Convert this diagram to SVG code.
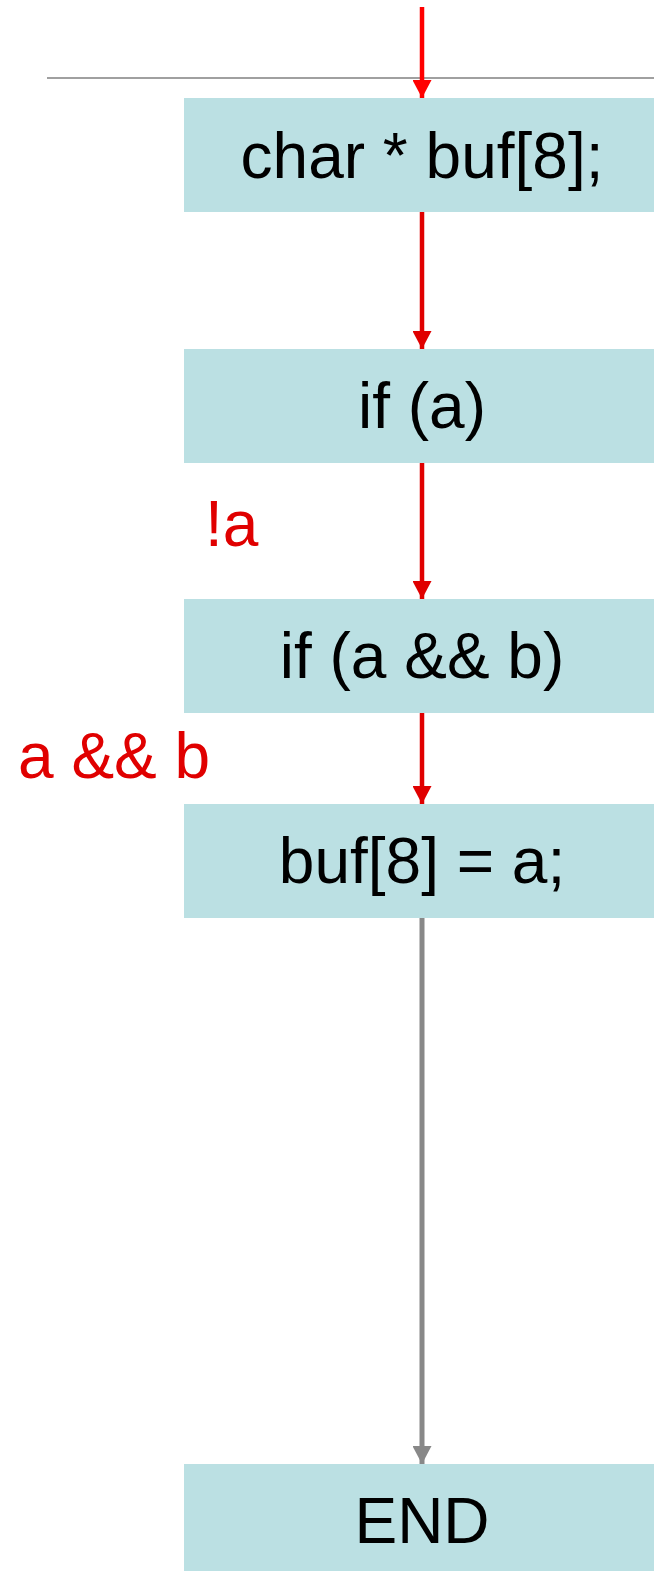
<svg xmlns="http://www.w3.org/2000/svg" width="654" height="1571" viewBox="0 0 654 1571">
<style>
.box{fill:#bbe0e3}
.t{font-family:"Liberation Sans",Arial,sans-serif;font-size:64px;fill:#000;text-anchor:middle}
.lbl{font-family:"Liberation Sans",Arial,sans-serif;font-size:64px;fill:#e00000}
.red{stroke:#e00000;stroke-width:4.5;fill:none}
.gray{stroke:#888;stroke-width:5;fill:none}
</style>
<defs>
<marker id="ar" markerUnits="userSpaceOnUse" markerWidth="19" markerHeight="19" refX="18" refY="9.5" orient="auto" viewBox="0 0 19 19">
<path d="M0,0 L18,9.5 L0,19 z" fill="#e00000"/>
</marker>
<marker id="arT" markerUnits="userSpaceOnUse" markerWidth="19" markerHeight="19" refX="18" refY="9.5" orient="auto" viewBox="0 0 19 19">
<path d="M0,0 L18,9.5 L0,19 z" fill="#ff0000"/>
</marker>
<marker id="ag" markerUnits="userSpaceOnUse" markerWidth="19" markerHeight="19" refX="18" refY="9.5" orient="auto" viewBox="0 0 19 19">
<path d="M0,0 L18,9.5 L0,19 z" fill="#888"/>
</marker>
</defs>
<rect x="0" y="0" width="654" height="1571" fill="#fff"/>
<line x1="47" y1="78" x2="654" y2="78" stroke="#a0a0a0" stroke-width="2"/>
<g id="n1"><rect class="box" x="184" y="98" width="476" height="114"/><text class="t" x="422" y="178">char * buf[8];</text></g>
<g id="n2"><rect class="box" x="184" y="349" width="476" height="114"/><text class="t" x="422" y="428">if (a)</text></g>
<g id="n3"><rect class="box" x="184" y="599" width="476" height="114"/><text class="t" x="422" y="678">if (a &amp;&amp; b)</text></g>
<g id="n4"><rect class="box" x="184" y="804" width="476" height="114"/><text class="t" x="422" y="883">buf[8] = a;</text></g>
<g id="n5"><rect class="box" x="184" y="1464" width="476" height="114"/><text class="t" x="422" y="1543">END</text></g>
<g id="connectors">
<line x1="422" y1="7" x2="422" y2="98" stroke="#ff0000" stroke-width="4.5" marker-end="url(#arT)"/>
<line class="red" x1="422" y1="212" x2="422" y2="349" marker-end="url(#ar)"/>
<line class="red" x1="422" y1="463" x2="422" y2="599" marker-end="url(#ar)"/>
<line class="red" x1="422" y1="713" x2="422" y2="804" marker-end="url(#ar)"/>
<line class="gray" x1="422" y1="918" x2="422" y2="1464" marker-end="url(#ag)"/>
<text class="lbl" x="205" y="546">!a</text>
<text class="lbl" x="18" y="778">a &amp;&amp; b</text>
</g>
</svg>
